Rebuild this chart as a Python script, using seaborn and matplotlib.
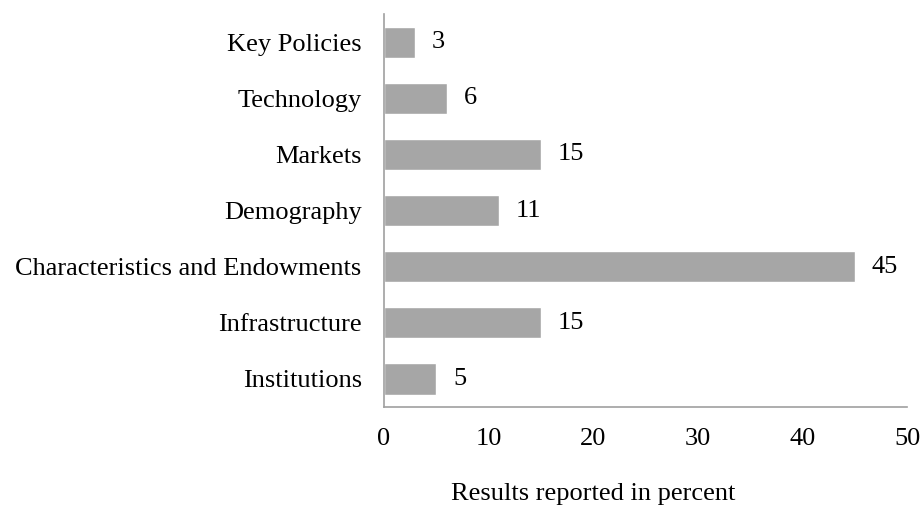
# horizontal bar chart: share of results per determinant group
import pandas as pd
import matplotlib.pyplot as plt
import seaborn as sns

# === data ===
categories = ["Key Policies", "Technology", "Markets", "Demography",
              "Characteristics and Endowments", "Infrastructure", "Institutions"]
percent = [3, 6, 15, 11, 45, 15, 5]

df = pd.DataFrame({"category": categories, "percent": percent})

# === style ===
sns.set_style("white")
plt.rcParams["font.family"] = ["Liberation Serif", "DejaVu Serif"]
plt.rcParams["text.color"] = "black"
plt.rcParams["xtick.color"] = "black"
plt.rcParams["ytick.color"] = "black"
plt.rcParams["axes.labelcolor"] = "black"

fs = 19

fig = plt.figure(figsize=(9.23, 5.08), dpi=100)
ax = fig.add_axes([0.416, 0.199, 0.567, 0.773])

sns.barplot(data=df, x="percent", y="category", orient="h",
            color="#a6a6a6", saturation=1, width=0.56, ax=ax)

ax.bar_label(ax.containers[0], padding=12, fontsize=fs)

ax.set_xlim(0, 50)
ax.set_ylim(6.5, -0.5)
ax.set_xticks([0, 10, 20, 30, 40, 50])
ax.tick_params(axis="x", length=0, pad=15, labelsize=fs)
ax.tick_params(axis="y", length=0, pad=16, labelsize=fs)
ax.set_ylabel("")
ax.set_xlabel("Results reported in percent", fontsize=fs)
ax.xaxis.set_label_coords(0.40, -0.195)

for side in ["top", "right"]:
    ax.spines[side].set_visible(False)
for side in ["left", "bottom"]:
    ax.spines[side].set_color("#a0a0a0")
    ax.spines[side].set_linewidth(1.2)

fig.savefig("out.png", dpi=100)
